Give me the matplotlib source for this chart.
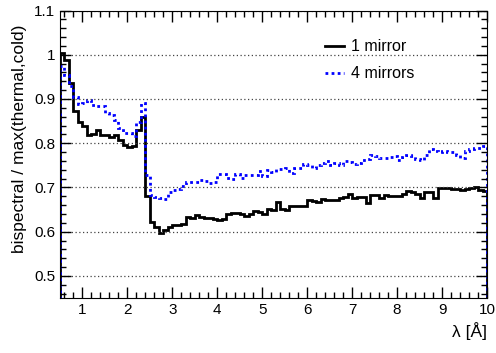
import numpy as np
import matplotlib.pyplot as plt
from matplotlib.ticker import MultipleLocator

plt.rcParams['font.family'] = ['Liberation Sans', 'DejaVu Sans']

## DATA
# 95 bins of 0.1 A from 0.5 to 10 A
edges = np.linspace(0.5, 10.0, 96)

one_mirror = [
    1.005, 0.987, 0.936, 0.872, 0.849, 0.840, 0.819, 0.821, 0.829, 0.819,
    0.818, 0.815, 0.819, 0.807, 0.795, 0.792, 0.793, 0.829, 0.859, 0.680,
    0.622, 0.611, 0.597, 0.603, 0.611, 0.615, 0.616, 0.617, 0.633, 0.632,
    0.637, 0.633, 0.631, 0.631, 0.628, 0.626, 0.629, 0.640, 0.643, 0.642,
    0.641, 0.635, 0.639, 0.647, 0.645, 0.640, 0.651, 0.650, 0.667, 0.652,
    0.648, 0.658, 0.659, 0.658, 0.659, 0.671, 0.669, 0.667, 0.673, 0.672,
    0.671, 0.671, 0.675, 0.679, 0.685, 0.675, 0.679, 0.678, 0.665, 0.684,
    0.683, 0.676, 0.684, 0.681, 0.681, 0.681, 0.685, 0.691, 0.690, 0.685,
    0.676, 0.689, 0.689, 0.677, 0.698, 0.698, 0.698, 0.697, 0.697, 0.695,
    0.697, 0.698, 0.702, 0.695, 0.693]

four_mirrors = [
    0.975, 0.955, 0.930, 0.905, 0.889, 0.892, 0.897, 0.886, 0.883, 0.883,
    0.868, 0.863, 0.852, 0.835, 0.823, 0.822, 0.816, 0.848, 0.891, 0.728,
    0.682, 0.678, 0.677, 0.673, 0.690, 0.695, 0.696, 0.703, 0.713, 0.713,
    0.713, 0.716, 0.715, 0.709, 0.712, 0.730, 0.730, 0.722, 0.720, 0.730,
    0.722, 0.728, 0.728, 0.728, 0.737, 0.726, 0.739, 0.735, 0.741, 0.741,
    0.745, 0.733, 0.745, 0.743, 0.754, 0.750, 0.745, 0.750, 0.756, 0.759,
    0.751, 0.755, 0.750, 0.759, 0.757, 0.754, 0.755, 0.761, 0.765, 0.773,
    0.772, 0.767, 0.766, 0.768, 0.770, 0.762, 0.768, 0.773, 0.771, 0.765,
    0.761, 0.773, 0.787, 0.782, 0.781, 0.782, 0.781, 0.780, 0.773, 0.767,
    0.782, 0.786, 0.789, 0.790, 0.793]

## PLOT
fig = plt.figure(figsize=(4.96, 3.53), dpi=100)
ax = fig.add_axes([60/496, 1 - 298/353, 427/496, 287.5/353])

ax.stairs(one_mirror, edges, color='black', lw=2, label='1 mirror')
ax.stairs(four_mirrors, edges, color='blue', lw=2, ls=(0, (1, 1.2)),
          label='4 mirrors')

ax.set_xlim(0.5, 10)
ax.set_ylim(0.45, 1.1)
ax.xaxis.set_major_locator(MultipleLocator(1))
ax.xaxis.set_minor_locator(MultipleLocator(0.2))
ax.yaxis.set_minor_locator(MultipleLocator(0.02))
ax.set_yticks([0.5, 0.6, 0.7, 0.8, 0.9, 1.0, 1.1])
ax.set_yticklabels(['0.5', '0.6', '0.7', '0.8', '0.9', '1', '1.1'])
ax.tick_params(which='both', direction='in', top=True, right=True,
               labelsize=11, width=1)
ax.tick_params(which='major', length=8)
ax.tick_params(which='minor', length=4)
ax.grid(axis='y', which='major', color='#444444', ls=(0, (1, 2)), lw=0.9)

ax.set_ylabel('bispectral / max(thermal,cold)', loc='top', fontsize=12.5)
ax.yaxis.set_label_coords(-0.077, 0.95)
ax.set_xlabel('λ [Å]', loc='right', fontsize=12.5)
ax.xaxis.set_label_coords(1.0, -0.085)

ax.legend(loc='upper left', bbox_to_anchor=(0.62, 0.9), frameon=False,
          fontsize=11.5, handlelength=1.2, handletextpad=0.45,
          labelspacing=0.75, borderpad=0, borderaxespad=0)

fig.savefig('out.png', dpi=100)
